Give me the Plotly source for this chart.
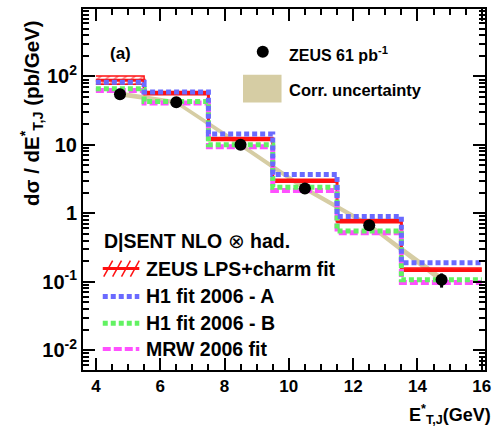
import plotly.graph_objects as go

# Bin edges in E*_T,J (GeV) and bin-centre positions of the measured points
bin_edges = [4, 5.5, 7.5, 9.5, 11.5, 13.5, 16]
x_points = [4.75, 6.5, 8.5, 10.5, 12.5, 14.75]

# ZEUS 61 pb^-1 measurement with statistical errors (pb/GeV)
zeus = [55, 42, 10, 2.3, 0.67, 0.107]
zeus_err = [3, 2, 0.5, 0.12, 0.04, 0.025]

# Correlated uncertainty band
corr_hi = [60, 45, 10.8, 2.5, 0.73, 0.122]
corr_lo = [51, 39, 9.2, 2.12, 0.62, 0.095]

# DISENT NLO (x) hadronisation predictions
lps_fit = [88, 57, 12.2, 3.0, 0.77, 0.15]
lps_hi = [101, 60, 12.8, 3.15, 0.81, 0.158]
lps_lo = [77, 54, 11.6, 2.85, 0.73, 0.142]
h1_a = [82, 59, 14.4, 3.7, 0.9, 0.19]
h1_b = [66, 43, 10, 2.4, 0.55, 0.107]
mrw = [62, 41, 9.4, 2.15, 0.52, 0.097]

# Axis tick labels
y_tickvals = [0.01, 0.1, 1, 10, 100]
y_ticktext = ["10<sup>-2</sup>", "10<sup>-1</sup>", "1", "10", "10<sup>2</sup>"]
x_tickvals = [4, 6, 8, 10, 12, 14, 16]

RED = "#ff1010"
BLUE = "#6a6aff"
GREEN = "#62f262"
MAGENTA = "#ff50ff"
TAN = "#d6cda4"
FONT = "Liberation Sans"

W, H = 498, 438
ML, MR, MT, MB = 83, 8, 7, 68
PW, PH = W - ML - MR, H - MT - MB


def px(xpix):
    return (xpix - ML) / PW


def py(ypix):
    return (H - MB - ypix) / PH


def step(vals):
    return vals + [vals[-1]]


fig = go.Figure()

# correlated uncertainty band through the data points
fig.add_trace(go.Scatter(x=x_points, y=corr_lo, mode="lines",
                         line=dict(color=TAN, width=0), showlegend=False))
fig.add_trace(go.Scatter(x=x_points, y=corr_hi, mode="lines", fill="tonexty",
                         fillcolor=TAN, line=dict(color=TAN, width=0),
                         showlegend=False))

# ZEUS LPS+charm fit: hatched uncertainty band plus central line
fig.add_trace(go.Scatter(x=bin_edges, y=step(lps_lo), mode="lines",
                         line=dict(color=RED, width=1.5, shape="hv"),
                         showlegend=False))
fig.add_trace(go.Scatter(x=bin_edges, y=step(lps_hi), mode="lines",
                         line=dict(color=RED, width=1.5, shape="hv"),
                         fill="tonexty", fillcolor="rgba(0,0,0,0)",
                         fillpattern=dict(shape="/", fgcolor=RED, size=6,
                                          solidity=0.35),
                         showlegend=False))
fig.add_trace(go.Scatter(x=bin_edges, y=step(lps_fit), mode="lines",
                         line=dict(color=RED, width=3, shape="hv"),
                         showlegend=False))

# other PDF fits as dotted histograms
for vals, col, dash, wid in [(mrw, MAGENTA, "8px,3px", 5),
                             (h1_b, GREEN, "5px,3px", 5),
                             (h1_a, BLUE, "5px,3px", 5)]:
    fig.add_trace(go.Scatter(x=bin_edges, y=step(vals), mode="lines",
                             line=dict(color=col, width=wid, dash=dash, shape="hv"),
                             showlegend=False))

# measured points
fig.add_trace(go.Scatter(x=x_points, y=zeus, mode="markers",
                         marker=dict(color="black", size=12),
                         error_y=dict(type="data", array=zeus_err, color="black",
                                      thickness=3, width=0),
                         showlegend=False))

axis_common = dict(showline=True, linecolor="black", linewidth=2, mirror="ticks",
                   ticks="inside", tickcolor="black", tickwidth=2, ticklen=12,
                   showgrid=False, zeroline=False)

y_minor = [m * 10 ** e for e in range(-3, 3) for m in range(2, 10)]

fig.update_xaxes(range=[3.6, 16.1], tickmode="array", tickvals=x_tickvals,
                 tickfont=dict(family=FONT, size=17, color="black", weight="bold"),
                 minor=dict(ticks="inside", ticklen=6, tickwidth=2,
                            tickcolor="black", dtick=0.5, tick0=4),
                 **axis_common)
fig.update_yaxes(type="log", range=[-2.29, 2.985], tickmode="array",
                 tickvals=y_tickvals, ticktext=y_ticktext,
                 tickfont=dict(family=FONT, size=20, color="black", weight="bold"),
                 minor=dict(ticks="inside", ticklen=6, tickwidth=2,
                            tickcolor="black", tickmode="array", tickvals=y_minor),
                 **axis_common)

ann = []


def text(s, xpix, ypix, size, xanchor="left", angle=0):
    ann.append(dict(text=s, x=px(xpix), y=py(ypix), xref="paper", yref="paper",
                    xanchor=xanchor, yanchor="middle", showarrow=False,
                    textangle=angle,
                    font=dict(family=FONT, size=size, color="black", weight="bold")))


text("(a)", 121, 52, 17, "center")
text("ZEUS 61 pb<sup>-1</sup>", 290, 52, 16)
text("Corr. uncertainty", 290, 88, 16.5)
text("D|SENT NLO <span style=\"font-family:'DejaVu Sans';font-weight:200\">\u2297</span> had.",
     102, 241, 19.5)
text("ZEUS LPS+charm fit", 145, 268, 19.5)
text("H1 fit 2006 - A", 145, 296, 19.5)
text("H1 fit 2006 - B", 145, 323, 19.5)
text("MRW 2006 fit", 145, 349, 19.5)
text("dσ / dE<sup>*</sup><sub>T,J</sub> (pb/GeV)", 31, 112, 20.5, "center", -90)
ann.append(dict(text="E<sup>*</sup><sub>T,J</sub>(GeV)", x=px(498), y=py(415),
                xref="paper", yref="paper", xanchor="right", yanchor="middle",
                showarrow=False,
                font=dict(family=FONT, size=18, color="black", weight="bold")))

shapes = []
# marker key
shapes.append(dict(type="circle", xref="paper", yref="paper",
                   xsizemode="pixel", ysizemode="pixel",
                   xanchor=px(265), yanchor=py(50), x0=-6, x1=6, y0=-6, y1=6,
                   fillcolor="black", line=dict(width=0)))
# band key
shapes.append(dict(type="rect", xref="paper", yref="paper",
                   x0=px(245), x1=px(284), y0=py(101), y1=py(73),
                   fillcolor=TAN, line=dict(width=0)))
# hatched red key
for xs in [104, 113, 122, 131]:
    shapes.append(dict(type="line", xref="paper", yref="paper",
                       x0=px(xs), y0=py(276), x1=px(xs + 9), y1=py(260),
                       line=dict(color=RED, width=1.5)))
shapes.append(dict(type="line", xref="paper", yref="paper",
                   x0=px(103), x1=px(140), y0=py(268), y1=py(268),
                   line=dict(color=RED, width=3)))
for ypix, col, dash, wid in [(296, BLUE, "5px,3px", 5), (323, GREEN, "5px,3px", 5),
                             (349, MAGENTA, "8px,3px", 4)]:
    shapes.append(dict(type="line", xref="paper", yref="paper",
                       x0=px(103), x1=px(140), y0=py(ypix), y1=py(ypix),
                       line=dict(color=col, width=wid, dash=dash)))

fig.update_layout(width=W, height=H, margin=dict(l=ML, r=MR, t=MT, b=MB),
                  paper_bgcolor="white", plot_bgcolor="white",
                  annotations=ann, shapes=shapes, showlegend=False)

fig.write_html("out.html")
